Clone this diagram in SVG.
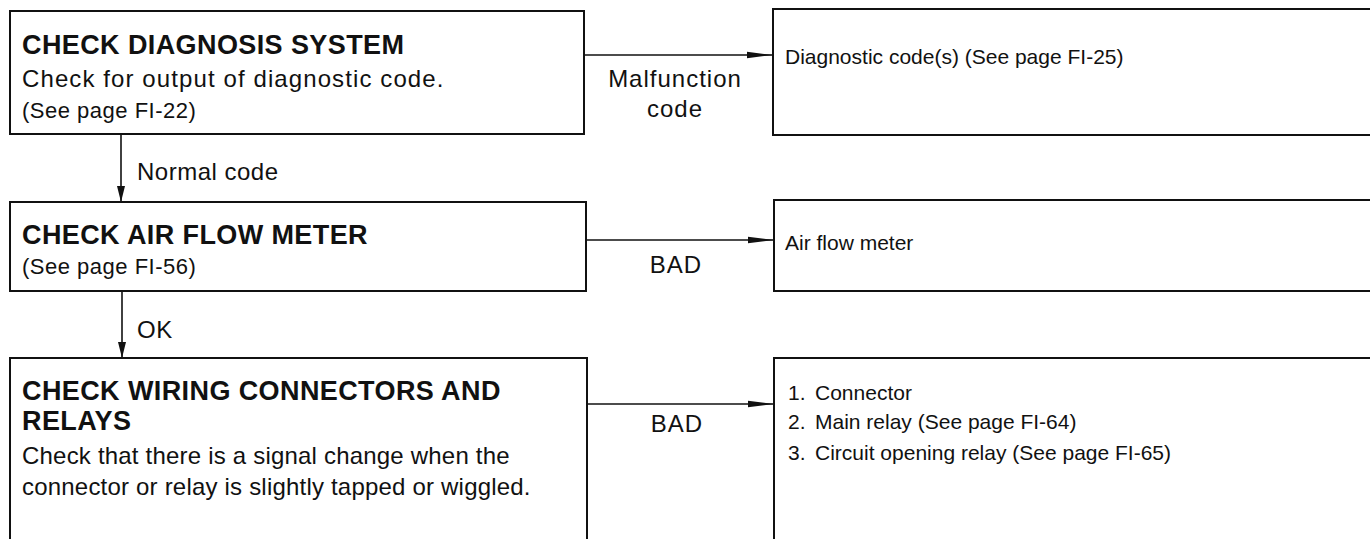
<svg xmlns="http://www.w3.org/2000/svg" width="1370" height="539" viewBox="0 0 1370 539">
<style>
.box{fill:#fff;stroke:#111;stroke-width:2}
.ln{fill:none;stroke:#111;stroke-width:1.6}
text{font-family:"Liberation Sans",Arial,Helvetica,sans-serif;fill:#111}
.ti{font-size:27px;font-weight:bold;letter-spacing:0.4px}
.bd{font-size:24px;letter-spacing:0.2px}
.bd1{font-size:24px;letter-spacing:1.1px}
.sm{font-size:22px;letter-spacing:0.5px}
.rt{font-size:21px}
.lb{font-size:24px;letter-spacing:1px;text-anchor:middle}
.lbl{font-size:24px;letter-spacing:0.5px}
</style>
<defs>
<marker id="ah" viewBox="0 0 26 10" markerWidth="26" markerHeight="10" refX="26" refY="5" orient="auto" markerUnits="userSpaceOnUse">
<path d="M0,1.8 L26,5 L0,8.2 z" fill="#111"/>
</marker>
<marker id="av" viewBox="0 0 16 10" markerWidth="16" markerHeight="10" refX="16" refY="5" orient="auto" markerUnits="userSpaceOnUse">
<path d="M0,1 L16,5 L0,9 z" fill="#111"/>
</marker>
</defs>

<g id="connectors">
<line class="ln" x1="584" y1="55" x2="773" y2="55" marker-end="url(#ah)"/>
<line class="ln" x1="586" y1="240" x2="774" y2="240" marker-end="url(#ah)"/>
<line class="ln" x1="587" y1="404" x2="774" y2="404" marker-end="url(#ah)"/>
<line class="ln" x1="121" y1="134" x2="121" y2="202" marker-end="url(#av)"/>
<line class="ln" x1="122" y1="291" x2="122" y2="358" marker-end="url(#av)"/>
<text class="lb" x="675" y="87">Malfunction</text>
<text class="lb" x="675" y="117">code</text>
<text class="lbl" x="137" y="180">Normal code</text>
<text class="lb" x="676" y="273">BAD</text>
<text class="lbl" x="137" y="338">OK</text>
<text class="lb" x="677" y="432">BAD</text>
</g>

<g id="check-diagnosis">
<rect class="box" x="10" y="11" width="574" height="123"/>
<text class="ti" x="22" y="54">CHECK DIAGNOSIS SYSTEM</text>
<text class="bd1" x="22" y="87">Check for output of diagnostic code.</text>
<text class="sm" x="22" y="118">(See page FI-22)</text>
</g>

<g id="diagnostic-codes">
<rect class="box" x="773" y="9" width="620" height="126"/>
<text class="rt" x="785" y="64">Diagnostic code(s) (See page FI-25)</text>
</g>

<g id="check-afm">
<rect class="box" x="10" y="202" width="576" height="89"/>
<text class="ti" x="22" y="244">CHECK AIR FLOW METER</text>
<text class="sm" x="22" y="274">(See page FI-56)</text>
</g>

<g id="afm">
<rect class="box" x="774" y="200" width="620" height="91"/>
<text class="rt" x="785" y="250">Air flow meter</text>
</g>

<g id="check-wiring">
<rect class="box" x="10" y="358" width="577" height="200"/>
<text class="ti" x="22" y="400">CHECK WIRING CONNECTORS AND</text>
<text class="ti" x="22" y="430">RELAYS</text>
<text class="bd" x="22" y="464">Check that there is a signal change when the</text>
<text class="bd" x="22" y="495">connector or relay is slightly tapped or wiggled.</text>
</g>

<g id="relays">
<rect class="box" x="774" y="358" width="620" height="200"/>
<text class="rt" x="788" y="400">1. <tspan x="815">Connector</tspan></text>
<text class="rt" x="788" y="429">2. <tspan x="815">Main relay (See page FI-64)</tspan></text>
<text class="rt" x="788" y="460">3. <tspan x="815">Circuit opening relay (See page FI-65)</tspan></text>
</g>
</svg>
